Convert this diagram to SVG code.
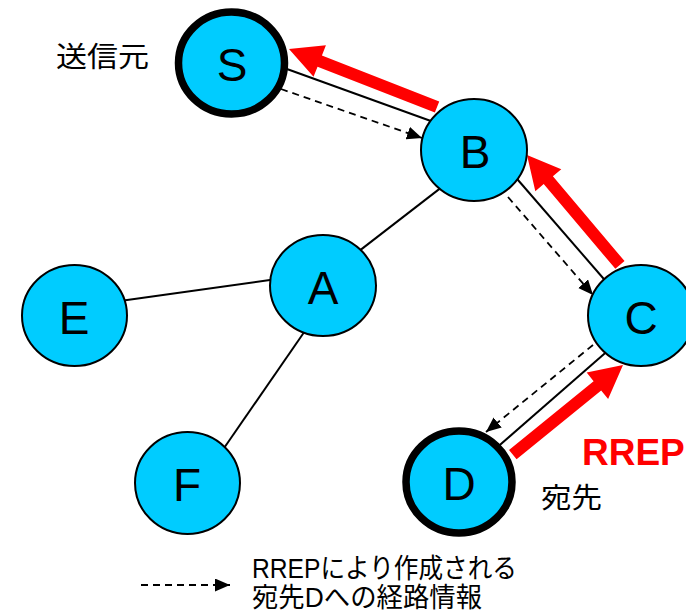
<svg xmlns="http://www.w3.org/2000/svg" width="686" height="612" viewBox="0 0 686 612">
  <defs>
    <marker id="tip" markerUnits="userSpaceOnUse" markerWidth="16" markerHeight="14" refX="15" refY="6.5" orient="auto">
      <path d="M0,0 L15,6.5 L0,13 z" fill="#000"/>
    </marker>
  </defs>
  <style>
    .link { stroke: #000; stroke-width: 2; fill: none; }
    .route { stroke: #000; stroke-width: 1.8; stroke-dasharray: 7 5; fill: none; marker-end: url(#tip); }
    .rrep { fill: #FF0000; }
    .node { fill: #00CCFF; stroke: #000; stroke-width: 2; }
    .end { stroke-width: 7.5; }
    .letter { font-family: "Liberation Sans", Arial, sans-serif; font-size: 46px; fill: #000; text-anchor: middle; }
    .jp { font-family: "Liberation Sans", "Noto Sans CJK JP", sans-serif; fill: #000; }
    .rlabel { font-family: "Liberation Sans", Arial, sans-serif; font-weight: bold; font-size: 37px; fill: #FF0000; }
  </style>

  <rect width="686" height="612" fill="#fff"/>

  <!-- links, route entries and RREP arrows -->
  <g id="connectors">
    <line class="link" x1="280" y1="66.5" x2="435" y2="122.5"/>
    <line class="link" x1="512.8" y1="174" x2="608.2" y2="284"/>
    <line class="link" x1="607.5" y1="351" x2="497.5" y2="447"/>
    <line class="link" x1="444" y1="185.4" x2="357" y2="252.6"/>
    <line class="link" x1="120" y1="301" x2="277" y2="279"/>
    <line class="link" x1="307" y1="328" x2="222" y2="451"/>

    <line class="route" x1="281" y1="89" x2="422" y2="138"/>
    <line class="route" x1="508" y1="197" x2="593" y2="295"/>
    <line class="route" x1="593" y1="345" x2="486" y2="432"/>

    <polygon class="rrep" points="-159,-6 -33,-6 -33,-17 0,0 -33,17 -33,6 -159,6" transform="translate(289 49) rotate(-158.6)"/>
    <polygon class="rrep" points="-144,-6 -33,-6 -33,-17 0,0 -33,17 -33,6 -144,6" transform="translate(527 155) rotate(-130.2)"/>
    <polygon class="rrep" points="-142,-6 -33,-6 -33,-17 0,0 -33,17 -33,6 -142,6" transform="translate(623 365) rotate(-39.1)"/>
  </g>

  <g id="node-S">
    <ellipse class="node end" cx="231.5" cy="63" rx="53" ry="51"/>
    <text class="letter" x="232" y="81">S</text>
  </g>
  <g id="node-B">
    <ellipse class="node" cx="474" cy="150" rx="53" ry="51"/>
    <text class="letter" x="475" y="168">B</text>
  </g>
  <g id="node-A">
    <ellipse class="node" cx="323" cy="285.5" rx="53" ry="50.5"/>
    <text class="letter" x="323" y="304">A</text>
  </g>
  <g id="node-E">
    <ellipse class="node" cx="74.5" cy="315.5" rx="52.5" ry="50.5"/>
    <text class="letter" x="74" y="334">E</text>
  </g>
  <g id="node-F">
    <ellipse class="node" cx="187.5" cy="483" rx="52.5" ry="51"/>
    <text class="letter" x="187" y="501">F</text>
  </g>
  <g id="node-C">
    <ellipse class="node" cx="641" cy="315.5" rx="53" ry="50.5"/>
    <text class="letter" x="641" y="334">C</text>
  </g>
  <g id="node-D">
    <ellipse class="node end" cx="459" cy="482" rx="53" ry="51"/>
    <text class="letter" x="459" y="500">D</text>
  </g>

  <g id="labels">
    <text class="jp" x="56" y="67" font-size="28" textLength="93" lengthAdjust="spacingAndGlyphs">送信元</text>
    <text class="jp" x="541" y="508" font-size="28" textLength="61" lengthAdjust="spacingAndGlyphs">宛先</text>
    <text class="rlabel" x="582" y="465">RREP</text>
  </g>

  <g id="legend">
    <line class="route" x1="141" y1="585" x2="230" y2="585"/>
    <text class="jp" x="252" y="578" font-size="27" textLength="265" lengthAdjust="spacingAndGlyphs">RREPにより作成される</text>
    <text class="jp" x="252" y="607" font-size="27" textLength="230" lengthAdjust="spacingAndGlyphs">宛先Dへの経路情報</text>
  </g>
</svg>
